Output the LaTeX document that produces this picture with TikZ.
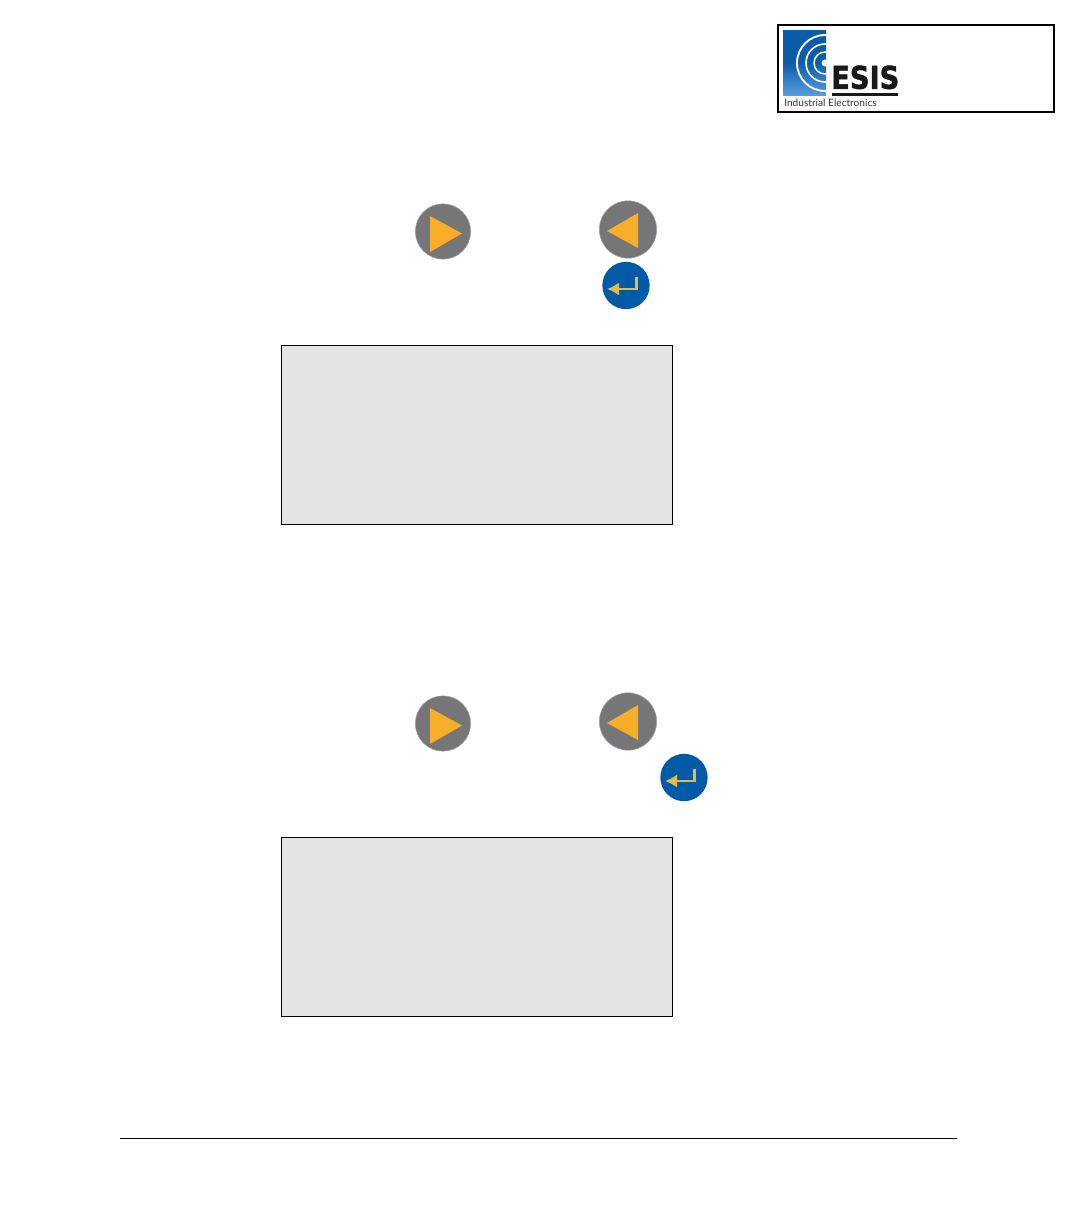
\documentclass[tikz,border=0pt]{standalone}
\usepackage{fontspec}
\setmainfont{Liberation Sans}
\newfontfamily\logofont[BoldFeatures={FakeStretch=0.87,FakeBold=1.6}]{DejaVu Sans}
\newfontfamily\tagfont{Lato}
\usetikzlibrary{arrows.meta,calc}
\definecolor{btngray}{RGB}{118,118,120}
\definecolor{btngold}{RGB}{248,174,40}
\definecolor{btnblue}{RGB}{0,90,165}
\definecolor{entgold}{RGB}{226,186,80}
\definecolor{logoblue}{RGB}{12,92,170}
\definecolor{logolight}{RGB}{90,155,220}
\definecolor{panelgray}{RGB}{228,228,228}

\begin{document}
\begin{tikzpicture}[x=0.75pt,y=-0.75pt,
    panel/.style={draw, line width=0.6pt, fill=panelgray, minimum width=293.25pt, minimum height=134.25pt, inner sep=0pt},
    grey btn/.style={circle, fill=btngray, draw=btngray!70, line width=0.4pt, inner sep=0pt},
    enter btn/.style={circle, fill=btnblue, minimum size=35.5pt, inner sep=0pt},
    tri/.style={fill=btngold},
    enter arrow/.style={draw=entgold, line width=2pt, -{Latex[length=9pt,width=10pt]}}
]
    \useasboundingbox (0,0) rectangle (1078,1218);

    % logo
    \node[draw, line width=1.1pt, minimum width=207pt, minimum height=65pt, inner sep=0pt] (frame) at (916,68.5) {};
    \begin{scope}
        \clip (783,30) rectangle (826,95);
        \fill[top color=logoblue, bottom color=logolight, middle color=logoblue] (783,30) rectangle (826,95);
        \draw[white, line width=1.4pt] (825,63) circle (28);
        \draw[white, line width=1.2pt] (825,63) circle (19);
        \draw[white, line width=1.1pt] (825,63) circle (11);
        \fill[white] (825,63) circle (3.5);
    \end{scope}
    \node[anchor=south west, inner sep=0pt, font=\logofont\bfseries\fontsize{23.5}{24}\selectfont, text=black!90] (esis) at (831,89.5) {ESIS};
    \fill[black!90] (832,92.5) rectangle (898,95.5);
    \node[anchor=west, inner sep=0pt, font=\tagfont\fontsize{7.6}{9}\selectfont, text=black!80] (tag) at (784,103) {Industrial Electronics};

    % first group
    \node[grey btn, minimum size=41.5pt] (rightA) at (443,231.5) {};
    \fill[tri] (430,216) -- (462,233.5) -- (430,252) -- cycle;
    \node[grey btn, minimum size=43pt] (leftA) at (628,229.5) {};
    \fill[tri] (638,213) -- (607,231) -- (638,248) -- cycle;
    \node[enter btn] (enterA) at (626,285.5) {};
    \draw[enter arrow] (636.5,277) -- (636.5,289) -- (607,289);
    \node[panel] (panelA) at (477,435) {};

    % second group
    \node[grey btn, minimum size=41.5pt] (rightB) at (443,723.5) {};
    \fill[tri] (430,708) -- (462,725.5) -- (430,744) -- cycle;
    \node[grey btn, minimum size=43pt] (leftB) at (628,721.5) {};
    \fill[tri] (638,705) -- (607,723) -- (638,740) -- cycle;
    \node[enter btn] (enterB) at (684,777.5) {};
    \draw[enter arrow] (694.5,769) -- (694.5,781) -- (665,781);
    \node[panel] (panelB) at (477,927) {};

    % footer rule
    \coordinate (ruleL) at (120,1138);
    \coordinate (ruleR) at (956.5,1138);
    \draw[line width=0.75pt] (ruleL) -- (ruleR);
\end{tikzpicture}
\end{document}
